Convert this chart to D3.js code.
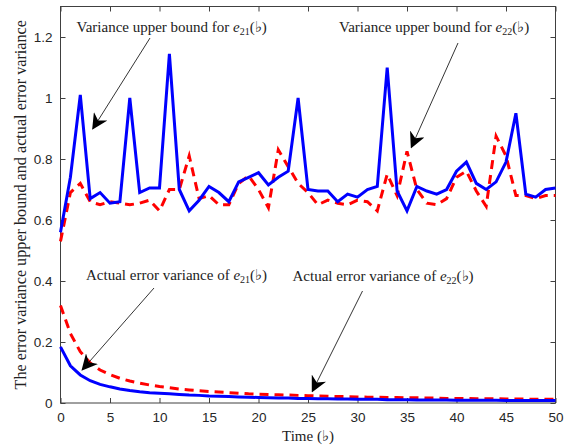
<!DOCTYPE html>
<html>
<head>
<meta charset="utf-8">
<style>
body { margin: 0; background: #fff; }
.axis .domain { display: none; }
.axis text { font-family: "Liberation Sans", Arial, sans-serif; font-size: 13.5px; fill: #262626; }
.axis line { stroke: #404040; }
.note { font-family: "Liberation Serif", "Times New Roman", serif; font-size: 15px; fill: #222; }
</style>
<script src="https://d3js.org/d3.v7.min.js"></script>
</head>
<body>
<svg width="570" height="447" id="chart"></svg>
<script>
// time steps 0..50
var steps = d3.range(0, 51);
var xTicks = [0, 5, 10, 15, 20, 25, 30, 35, 40, 45, 50];
var yTicks = [0, 0.2, 0.4, 0.6, 0.8, 1, 1.2];

// variance upper bound for e21
var upper21 = [0.56, 0.74, 1.01, 0.67, 0.69, 0.655, 0.66, 1.0, 0.69, 0.705, 0.705,
  1.145, 0.70, 0.63, 0.665, 0.71, 0.69, 0.66, 0.725, 0.74, 0.755,
  0.715, 0.74, 0.76, 1.0, 0.70, 0.695, 0.695, 0.66, 0.685, 0.675,
  0.70, 0.71, 1.10, 0.695, 0.63, 0.71, 0.695, 0.685, 0.70, 0.76,
  0.79, 0.72, 0.70, 0.725, 0.79, 0.95, 0.685, 0.675, 0.70, 0.705];
// variance upper bound for e22
var upper22 = [0.53, 0.69, 0.72, 0.66, 0.65, 0.66, 0.655, 0.65, 0.655, 0.665, 0.63,
  0.70, 0.70, 0.81, 0.67, 0.68, 0.65, 0.65, 0.72, 0.745, 0.70,
  0.64, 0.83, 0.775, 0.72, 0.69, 0.65, 0.665, 0.655, 0.65, 0.665,
  0.66, 0.63, 0.75, 0.68, 0.825, 0.70, 0.655, 0.65, 0.67, 0.74,
  0.76, 0.695, 0.645, 0.875, 0.81, 0.68, 0.68, 0.67, 0.68, 0.68];
// actual error variance of e21
var actual21 = [0.184, 0.122, 0.092, 0.073, 0.061, 0.053, 0.046, 0.041, 0.037, 0.034, 0.032,
  0.030, 0.028, 0.026, 0.025, 0.023, 0.022, 0.021, 0.020, 0.019, 0.018,
  0.017, 0.016, 0.016, 0.015, 0.015, 0.014, 0.014, 0.013, 0.013, 0.012,
  0.012, 0.012, 0.011, 0.011, 0.011, 0.010, 0.010, 0.010, 0.010, 0.009,
  0.009, 0.009, 0.009, 0.009, 0.008, 0.008, 0.008, 0.008, 0.008, 0.008];
// actual error variance of e22
var actual22 = [0.32, 0.228, 0.168, 0.131, 0.108, 0.093, 0.081, 0.072, 0.065, 0.059, 0.054,
  0.050, 0.046, 0.043, 0.040, 0.038, 0.036, 0.034, 0.032, 0.030, 0.029,
  0.028, 0.027, 0.026, 0.025, 0.024, 0.023, 0.022, 0.021, 0.021, 0.020,
  0.019, 0.019, 0.018, 0.018, 0.017, 0.017, 0.016, 0.016, 0.015, 0.015,
  0.015, 0.014, 0.014, 0.014, 0.013, 0.013, 0.013, 0.012, 0.012, 0.012];

var svg = d3.select("#chart");
var pLeft = 60.5, pRight = 555.5, pTop = 6.5, pBottom = 403;

var x = d3.scaleLinear().domain([0, 50]).range([pLeft, pRight]);
var y = d3.scaleLinear().domain([0, 1.3]).range([pBottom, pTop]);

svg.append("defs").append("marker")
    .attr("id", "head")
    .attr("viewBox", "0 0 10 10")
    .attr("refX", 9).attr("refY", 5)
    .attr("markerWidth", 16).attr("markerHeight", 16)
    .attr("markerUnits", "userSpaceOnUse")
    .attr("orient", "auto")
  .append("path")
    .attr("d", "M0,0 L10,5 L0,10 L3,5 Z")
    .attr("fill", "#000");

// axes with inward ticks, box on all sides
svg.append("g").attr("class", "axis")
    .attr("transform", "translate(0," + pBottom + ")")
    .call(d3.axisBottom(x).tickValues(xTicks).tickSizeInner(-5).tickSizeOuter(0).tickPadding(9));
svg.append("g").attr("class", "axis")
    .attr("transform", "translate(0," + pTop + ")")
    .call(d3.axisTop(x).tickValues(xTicks).tickSizeInner(-5).tickSizeOuter(0).tickFormat(""));
svg.append("g").attr("class", "axis")
    .attr("transform", "translate(" + pLeft + ",0)")
    .call(d3.axisLeft(y).tickValues(yTicks).tickSizeInner(-5).tickSizeOuter(0).tickPadding(8).tickFormat(d3.format("~g")));
svg.append("g").attr("class", "axis")
    .attr("transform", "translate(" + pRight + ",0)")
    .call(d3.axisRight(y).tickValues(yTicks).tickSizeInner(-5).tickSizeOuter(0).tickFormat(""));

svg.append("rect")
    .attr("x", pLeft).attr("y", pTop)
    .attr("width", pRight - pLeft).attr("height", pBottom - pTop)
    .attr("fill", "none").attr("stroke", "#404040").attr("stroke-width", 1);

var line = d3.line()
    .x(function(d, i) { return x(steps[i]); })
    .y(function(d) { return y(d); });

var series = [
  {v: upper21, color: "#0000ff", dash: null},
  {v: upper22, color: "#ff0000", dash: "9,6"},
  {v: actual21, color: "#0000ff", dash: null},
  {v: actual22, color: "#ff0000", dash: "9,6"}
];
[series[1], series[0], series[3], series[2]].forEach(function(s) {
  svg.append("path")
      .attr("d", line(s.v))
      .attr("fill", "none")
      .attr("stroke", s.color)
      .attr("stroke-width", 3)
      .attr("stroke-dasharray", s.dash);
});

// annotations
var notes = [
  {text: "Variance upper bound for ", sub: "21", tx: 76.5, ty: 31.5, from: [150, 38], to: [93, 128.5]},
  {text: "Variance upper bound for ", sub: "22", tx: 339, ty: 31.5, from: [458, 43], to: [411.5, 147]},
  {text: "Actual error variance of ", sub: "21", tx: 86, ty: 280, from: [154, 288], to: [82.5, 369.5]},
  {text: "Actual error variance of ", sub: "22", tx: 292.5, ty: 280.5, from: [362.5, 291], to: [312.5, 391]}
];
notes.forEach(function(n) {
  var t = svg.append("text").attr("class", "note").attr("x", n.tx).attr("y", n.ty);
  t.append("tspan").text(n.text);
  t.append("tspan").attr("font-style", "italic").text("e");
  t.append("tspan").attr("font-size", "10px").attr("dy", 3).text(n.sub);
  t.append("tspan").attr("dy", -3).text("(\u266d)");
  svg.append("line")
      .attr("x1", n.from[0]).attr("y1", n.from[1])
      .attr("x2", n.to[0]).attr("y2", n.to[1])
      .attr("stroke", "#000").attr("stroke-width", 0.8)
      .attr("marker-end", "url(#head)");
});

svg.append("text").attr("class", "note")
    .attr("x", (pLeft + pRight) / 2).attr("y", 441)
    .attr("text-anchor", "middle")
    .text("Time (\u266d)");

svg.append("text").attr("class", "note")
    .attr("transform", "translate(26," + ((pTop + pBottom) / 2) + ") rotate(-90)")
    .attr("text-anchor", "middle")
    .style("font-size", "16.2px")
    .text("The error variance upper bound and actual error variance");
</script>
</body>
</html>
